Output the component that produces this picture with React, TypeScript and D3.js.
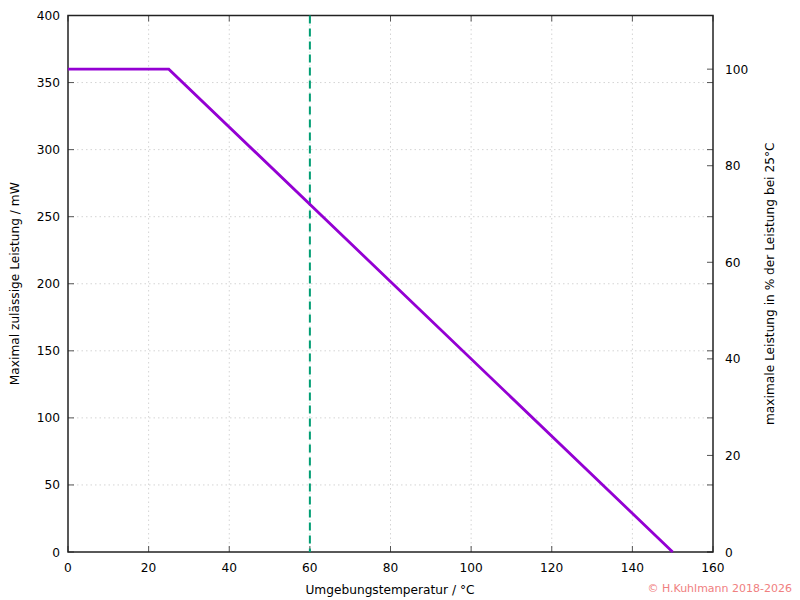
import React from "react";
import * as d3 from "d3";

const xTicks = [0, 20, 40, 60, 80, 100, 120, 140, 160];
const yTicks = [0, 50, 100, 150, 200, 250, 300, 350, 400];
const y2Ticks = [0, 20, 40, 60, 80, 100];
const curveT = [0, 25, 150];
const curveP = [360, 360, 0];
const markerT = [60];
const refPower = 360;

const W = 800, H = 600;
const L = 68, R = 713, T = 15.5, B = 552;

export default function App() {
  const x = d3.scaleLinear().domain([0, 160]).range([L, R]);
  const y = d3.scaleLinear().domain([0, 400]).range([B, T]);
  const y2 = d3.scaleLinear().domain([0, 400 / refPower * 100]).range([B, T]);
  const pts: [number, number][] = curveT.map((t, i) => [t, curveP[i]]);
  const line = d3.line<[number, number]>().x(d => x(d[0])).y(d => y(d[1]));
  const font = "DejaVu Sans, sans-serif";
  const tickC = "#555";
  const fs = 12.2;
  return (
    <svg width={W} height={H} style={{ position: "absolute", left: 0, top: 0 }} fontFamily={font}>
      <rect x={0} y={0} width={W} height={H} fill="#fff" />
      {xTicks.slice(1, -1).map(t => (
        <line key={"gx" + t} x1={x(t)} x2={x(t)} y1={T} y2={B} stroke="#d4d4d4" strokeWidth={1} strokeDasharray="1.5,3" />
      ))}
      {yTicks.slice(1, -1).map(t => (
        <line key={"gy" + t} x1={L} x2={R} y1={y(t)} y2={y(t)} stroke="#d4d4d4" strokeWidth={1} strokeDasharray="1.5,3" />
      ))}
      {xTicks.map(t => (
        <g key={"tx" + t}>
          <line x1={x(t)} x2={x(t)} y1={B} y2={B - 6} stroke={tickC} />
          <line x1={x(t)} x2={x(t)} y1={T} y2={T + 6} stroke={tickC} />
          <text x={x(t)} y={572} fontSize={fs} textAnchor="middle" fill="#000">{t}</text>
        </g>
      ))}
      {yTicks.map(t => (
        <g key={"ty" + t}>
          <line x1={L} x2={L + 6} y1={y(t)} y2={y(t)} stroke={tickC} />
          <line x1={R} x2={R - 6} y1={y(t)} y2={y(t)} stroke={tickC} />
          <text x={60} y={y(t) + 4.5} fontSize={fs} textAnchor="end" fill="#000">{t}</text>
        </g>
      ))}
      {y2Ticks.map(t => (
        <g key={"ty2" + t}>
          <line x1={R} x2={R - 6} y1={y2(t)} y2={y2(t)} stroke={tickC} />
          <text x={725} y={y2(t) + 4.5} fontSize={fs} textAnchor="start" fill="#000">{t}</text>
        </g>
      ))}
      <rect x={L} y={T} width={R - L} height={B - T} fill="none" stroke="#222" strokeWidth={1.5} />
      {markerT.map(t => (
        <line key={"m" + t} x1={x(t)} x2={x(t)} y1={T} y2={B} stroke="#009e73" strokeWidth={2} strokeDasharray="8,5" />
      ))}
      <path d={line(pts) || ""} fill="none" stroke="#9400d3" strokeWidth={2.8} />
      <text x={390} y={594} fontSize={fs} textAnchor="middle" fill="#000">Umgebungstemperatur / °C</text>
      <text transform={`translate(19,${(T + B) / 2}) rotate(-90)`} fontSize={fs} textAnchor="middle" fill="#000">Maximal zulässige Leistung / mW</text>
      <text transform={`translate(774,${(T + B) / 2}) rotate(-90)`} fontSize={fs} textAnchor="middle" fill="#000">maximale Leistung in % der Leistung bei 25°C</text>
      <text x={792} y={592} fontSize={11} textAnchor="end" fill="#f08080">© H.Kuhlmann 2018-2026</text>
    </svg>
  );
}
